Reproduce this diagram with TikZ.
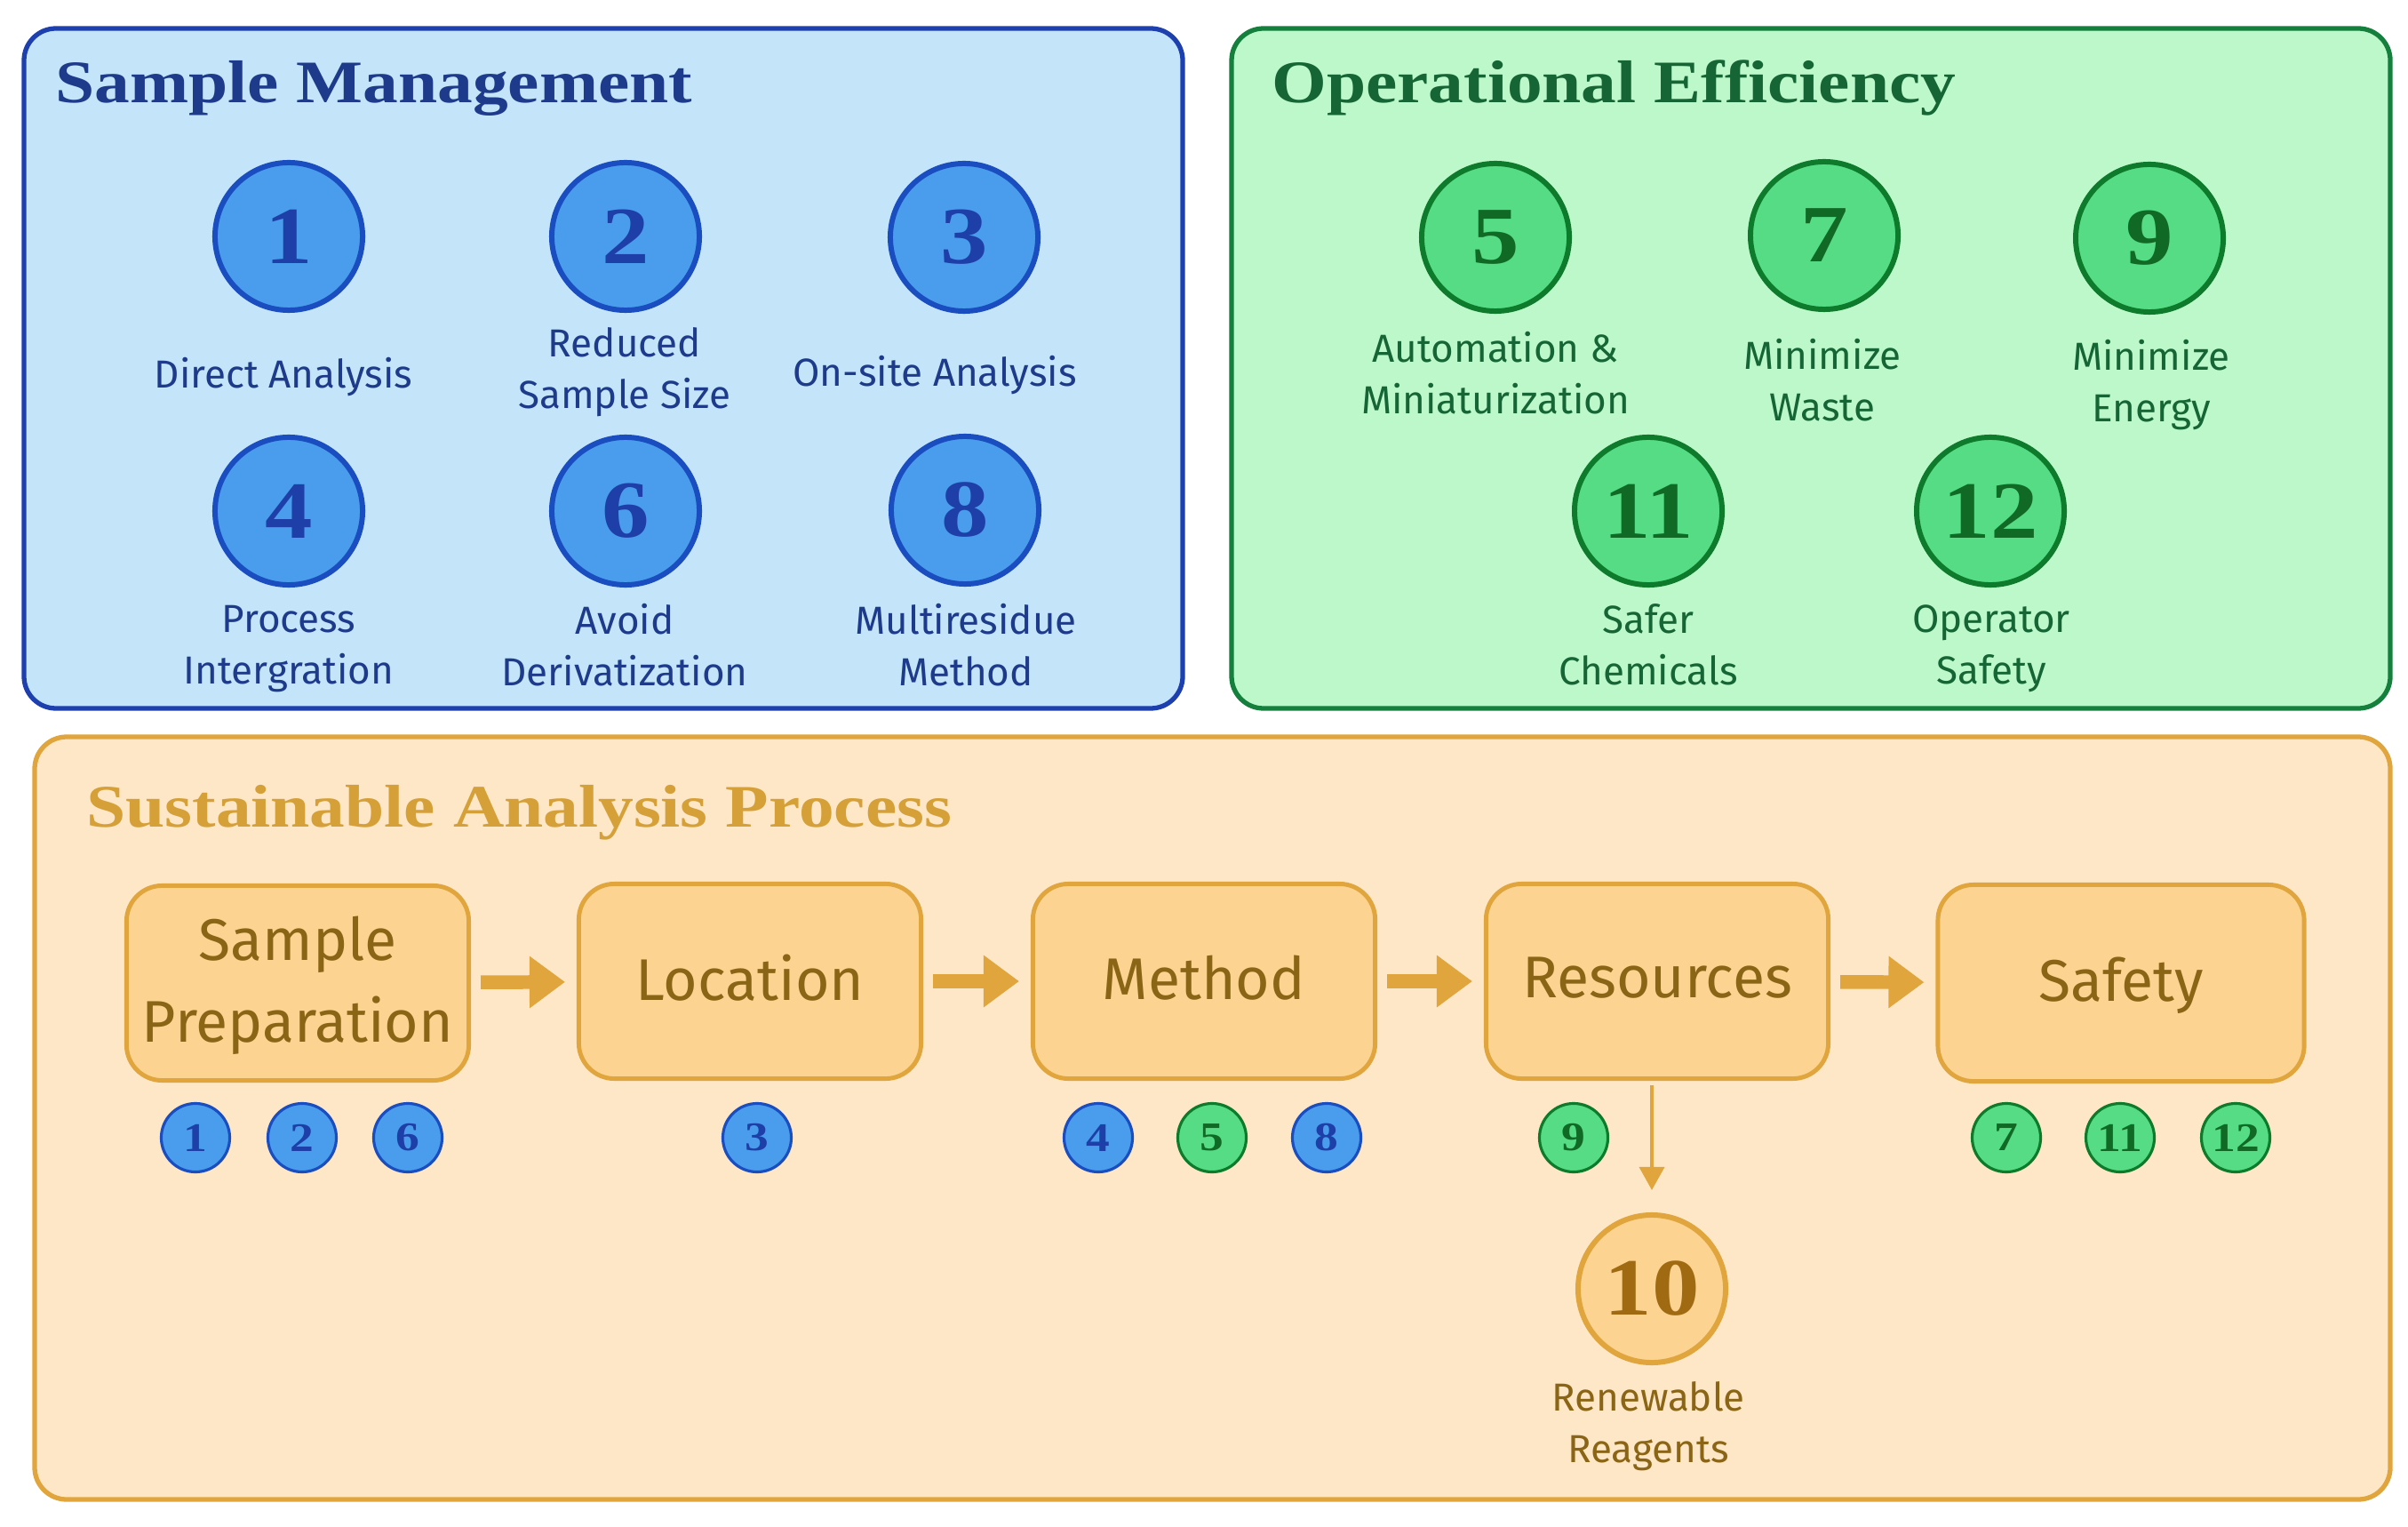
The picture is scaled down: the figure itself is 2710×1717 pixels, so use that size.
\documentclass[tikz,border=0pt]{standalone}
\usepackage{fontspec}
\setmainfont{Fira Sans}
\newfontfamily\numfont[FakeStretch=1.17]{Liberation Serif}
\usetikzlibrary{arrows.meta}

\definecolor{smfill}{HTML}{C4E4FA}
\definecolor{smline}{HTML}{1E40AF}
\definecolor{smtext}{HTML}{1E3A8A}
\definecolor{smdot}{HTML}{4A9DEC}
\definecolor{smdotline}{HTML}{1A4DBF}
\definecolor{smnum}{HTML}{1E3FA8}
\definecolor{oefill}{HTML}{BDF8CA}
\definecolor{oeline}{HTML}{15803D}
\definecolor{oetext}{HTML}{166534}
\definecolor{oedot}{HTML}{55DC84}
\definecolor{oedotline}{HTML}{0E7A2C}
\definecolor{oenum}{HTML}{106A25}
\definecolor{sapfill}{HTML}{FEE7C6}
\definecolor{sapline}{HTML}{E0A53C}
\definecolor{saptitle}{HTML}{D4A037}
\definecolor{sapbox}{HTML}{FCD390}
\definecolor{saptext}{HTML}{8B6516}
\definecolor{sapnum}{HTML}{A06A12}

\tikzset{
  panel/.style={rounded corners=0.36cm,line width=1.5pt},
  head/.style={anchor=base west,font=\numfont\bfseries\fontsize{19.3}{22}\selectfont},
  bigdot/.style={circle,draw,inner sep=0pt,minimum size=1.66cm,line width=1.7pt,
    font=\numfont\bfseries\fontsize{26}{26}\selectfont},
  tinydot/.style={circle,draw,inner sep=0pt,minimum size=0.77cm,line width=0.9pt,
    font=\numfont\bfseries\fontsize{13}{13}\selectfont},
  sm/.style={fill=smdot,draw=smdotline,text=smnum},
  oe/.style={fill=oedot,draw=oedotline,text=oenum},
  caption/.style={align=center,font=\fontsize{12.5}{16.5}\selectfont,
    execute at begin node=\strut,execute at end node=\strut},
  stage/.style={draw=sapline,fill=sapbox,text=saptext,rounded corners=0.4cm,line width=1.4pt,
    minimum width=3.85cm,minimum height=2.19cm,align=center,text depth=0.25em,
    font=\fontsize{18.8}{26}\selectfont},
  flow/.style={-{Triangle[length=0.4cm,width=0.56cm]},line width=4.4pt,color=sapline,
    shorten <=0.11cm,shorten >=0.13cm}
}

\begin{document}
\begin{tikzpicture}[x=0.01cm,y=0.01cm]
  \useasboundingbox (0,0) rectangle (2710,1717);
  \fill[white] (0,0) rectangle (2710,1717);

  % panels
  \draw[panel,fill=smfill,draw=smline] (27,920) rectangle (1331,1685);
  \draw[panel,fill=oefill,draw=oeline] (1386,920) rectangle (2690,1685);
  \draw[panel,fill=sapfill,draw=sapline] (39,30) rectangle (2690,888);

  \node[head,text=smtext] (hsm) at (50,1601) {Sample Management};
  \node[head,text=oetext] (hoe) at (1419,1601) {Operational Efficiency};
  \node[head,text=saptitle] (hsap) at (85,787) {Sustainable Analysis Process};

  % sample management
  \node[bigdot,sm] (p1) at (325,1451) {1};
  \node[bigdot,sm] (p2) at (704,1451) {2};
  \node[bigdot,sm] (p3) at (1085,1450) {3};
  \node[bigdot,sm] (p4) at (325,1142) {4};
  \node[bigdot,sm] (p6) at (704,1142) {6};
  \node[bigdot,sm] (p8) at (1086,1143) {8};
  \node[caption,text=smtext] (t1) at (319,1292) {Direct Analysis};
  \node[caption,text=smtext] (t2) at (703,1294) {Reduced\\Sample Size};
  \node[caption,text=smtext] (t3) at (1052,1294) {On-site Analysis};
  \node[caption,text=smtext] (t4) at (325,983) {Process\\Intergration};
  \node[caption,text=smtext] (t6) at (703,983) {Avoid\\Derivatization};
  \node[caption,text=smtext] (t8) at (1087,983) {Multiresidue\\Method};

  % operational efficiency
  \node[bigdot,oe] (p5) at (1683,1450) {5};
  \node[bigdot,oe] (p7) at (2053,1452) {7};
  \node[bigdot,oe] (p9) at (2419,1449) {9};
  \node[bigdot,oe] (p11) at (1855,1142) {11};
  \node[bigdot,oe] (p12) at (2240,1142) {12};
  \node[caption,text=oetext] (t5) at (1683,1289) {Automation \&\\Miniaturization};
  \node[caption,text=oetext] (t7) at (2051,1281) {Minimize\\Waste};
  \node[caption,text=oetext] (t9) at (2421,1280) {Minimize\\Energy};
  \node[caption,text=oetext] (t11) at (1855,983) {Safer\\Chemicals};
  \node[caption,text=oetext] (t12) at (2241,983) {Operator\\Safety};

  % process
  \node[stage] (prep) at (335,611) {Sample\\Preparation};
  \node[stage] (loc) at (844,613) {Location};
  \node[stage] (meth) at (1355,613) {Method};
  \node[stage] (res) at (1865,613) {Resources};
  \node[stage,minimum width=4.12cm,minimum height=2.21cm] (saf) at (2387,611) {Safety};
  \path[flow]
    (prep) edge (loc)
    (loc) edge (meth)
    (meth) edge (res)
    (res) edge (saf);

  \node[tinydot,sm] (s1) at (220,437) {1};
  \node[tinydot,sm] (s2) at (340,437) {2};
  \node[tinydot,sm] (s6) at (459,437) {6};
  \node[tinydot,sm] (s3) at (852,437) {3};
  \node[tinydot,sm] (s4) at (1236,437) {4};
  \node[tinydot,oe] (s5) at (1364,437) {5};
  \node[tinydot,sm] (s8) at (1493,437) {8};
  \node[tinydot,oe] (s9) at (1771,437) {9};
  \node[tinydot,oe] (s7) at (2258,437) {7};
  \node[tinydot,oe] (s11) at (2386,437) {11};
  \node[tinydot,oe] (s12) at (2516,437) {12};

  \node[bigdot,fill=sapbox,draw=sapline,text=sapnum] (p10) at (1859,267) {10};
  \node[caption,text=saptext] (t10) at (1855,108) {Renewable\\Reagents};
  \draw[-{Triangle[length=0.26cm,width=0.28cm]},line width=1pt,color=sapline,
    shorten <=0.05cm,shorten >=0.25cm] (res.south -| p10) -- (p10);
\end{tikzpicture}
\end{document}
